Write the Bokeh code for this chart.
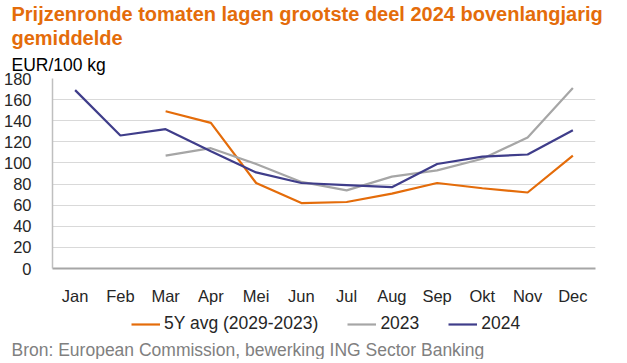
from bokeh.plotting import figure
from bokeh.layouts import column
from bokeh.models import (FactorRange, Range1d, FixedTicker, Title, Legend, LegendItem,
                          ColumnDataSource)
from bokeh.embed import file_html
from bokeh.resources import INLINE

nan = float("nan")

months = ["Jan", "Feb", "Mar", "Apr", "Mei", "Jun", "Jul", "Aug", "Sep", "Okt", "Nov", "Dec"]
avg5y = [nan, nan, 149, 138, 81, 62, 63, 71, 81, 76, 72, 107]
y2023 = [nan, nan, 107, 114, 99, 82, 74, 87, 93, 104, 124, 171]
y2024 = [169, 126, 132, 111, 91, 81, 79, 77, 99, 106, 108, 131]
y_ticks = [0, 20, 40, 60, 80, 100, 120, 140, 160, 180]

series_names = ["5Y avg (2029-2023)", "2023", "2024"]
colors = ["#E46C0A", "#A6A6A6", "#3F3D8A"]

title_line1 = "Prijzenronde tomaten lagen grootste deel 2024 bovenlangjarig"
title_line2 = "gemiddelde"
unit_label = "EUR/100 kg"
source_text = "Bron: European Commission, bewerking ING Sector Banking"

FONT = "Liberation Sans"

src = ColumnDataSource(dict(x=months, a=avg5y, b=y2023, c=y2024))
x_range = FactorRange(factors=months, range_padding=0)

# ---------------- main chart ----------------
p = figure(frame_width=543, frame_height=190, output_backend="svg", toolbar_location=None,
           x_range=x_range, y_range=Range1d(0, 180),
           min_border_left=41, min_border_right=27, min_border_top=0, min_border_bottom=34)
p.outline_line_color = None
p.background_fill_color = "white"
p.border_fill_color = "white"

for col, c in zip(["a", "b", "c"], colors):
    p.line("x", col, source=src, line_color=c, line_width=2.2)

p.yaxis.ticker = FixedTicker(ticks=y_ticks)
p.yaxis.axis_line_color = "#BFBFBF"
p.yaxis.axis_line_width = 1.5
p.yaxis.major_tick_line_color = None
p.yaxis.minor_tick_line_color = None
p.yaxis.major_label_text_font = FONT
p.yaxis.major_label_text_font_size = "16.5px"
p.yaxis.major_label_text_color = "#262626"
p.yaxis.major_label_standoff = 15

p.xaxis.axis_line_color = "#A6A6A6"
p.xaxis.axis_line_width = 2
p.xaxis.major_tick_line_color = None
p.xaxis.minor_tick_line_color = None
p.xaxis.major_label_text_font = FONT
p.xaxis.major_label_text_font_size = "16.5px"
p.xaxis.major_label_text_color = "#262626"
p.xaxis.major_label_standoff = 12

p.xgrid.grid_line_color = None
p.ygrid.grid_line_color = "#D9D9D9"
p.ygrid.grid_line_width = 1

p.add_layout(Title(text=unit_label, align="left", offset=-41, text_font=FONT,
                   text_font_size="17.5px", text_font_style="normal",
                   text_color="#000000", standoff=8), "above")
p.add_layout(Title(text=title_line2, align="left", offset=-41, text_font=FONT,
                   text_font_size="20px", text_font_style="bold",
                   text_color="#E46C0A", standoff=0), "above")
p.add_layout(Title(text=title_line1, align="left", offset=-41, text_font=FONT,
                   text_font_size="20px", text_font_style="bold",
                   text_color="#E46C0A", standoff=0), "above")

# ---------------- legend + source strip ----------------
# same series drawn again but outside this strip's visible y-range, only to key the legend
f2 = figure(width=611, height=52, output_backend="svg", toolbar_location=None,
            x_range=x_range, y_range=Range1d(-200, -100),
            x_axis_type=None, y_axis_type=None,
            min_border_left=41, min_border_right=27, min_border_top=0, min_border_bottom=0)
f2.outline_line_color = None
f2.grid.visible = False
f2.border_fill_color = "white"
f2.background_fill_color = "white"

keys = [f2.line("x", col, source=src, line_color=c, line_width=2.2)
        for col, c in zip(["a", "b", "c"], colors)]
legend = Legend(items=[LegendItem(label=n, renderers=[r]) for n, r in zip(series_names, keys)],
                orientation="horizontal", location=(79, 3),
                label_text_font=FONT, label_text_font_size="17.5px",
                label_text_color="#262626", glyph_width=29, glyph_height=16,
                label_standoff=4, spacing=29, padding=0, margin=0,
                label_height=20,
                border_line_color=None, background_fill_alpha=0)
f2.add_layout(legend, "center")

f2.add_layout(Title(text=source_text, align="left", offset=-41, text_font=FONT,
                    text_font_size="17.5px", text_font_style="normal",
                    text_color="#808080", standoff=0), "below")

layout = column(p, f2, spacing=0)
open("out.html", "w").write(file_html(layout, INLINE))
